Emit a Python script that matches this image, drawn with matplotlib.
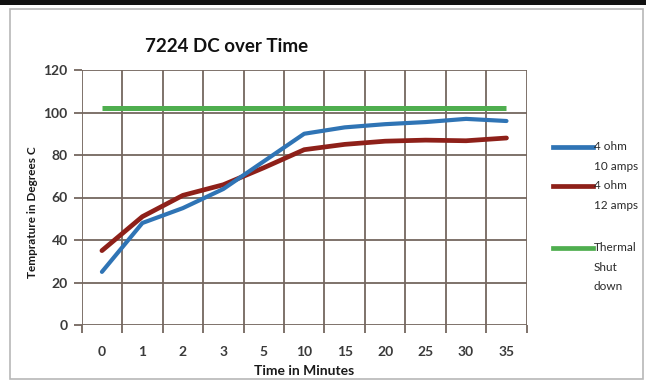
import matplotlib
matplotlib.use("Agg")
import matplotlib.pyplot as plt
from matplotlib.lines import Line2D
from matplotlib.patches import Rectangle

plt.rcParams['font.family'] = ['Lato', 'DejaVu Sans']

categories = ["0", "1", "2", "3", "5", "10", "15", "20", "25", "30", "35"]
ohm4_10amps = [25, 48, 55, 64, 77, 90, 93, 94.5, 95.5, 97, 96]
ohm4_12amps = [35, 51, 61, 66, 74, 82.5, 85, 86.5, 87, 86.7, 88]
thermal_shutdown = [102] * len(categories)
y_ticks = [0, 20, 40, 60, 80, 100, 120]

W, H = 646, 386
fig = plt.figure(figsize=(W / 100, H / 100), dpi=100)
fig.patch.set_facecolor("white")

def fx(px):
    return px / W

def fy(py):
    return 1 - py / H

# chart frame
fig.add_artist(Rectangle((0, fy(5)), 1, 5 / H, transform=fig.transFigure,
                         facecolor="#111111", edgecolor="none"))
fig.add_artist(Rectangle((fx(10), fy(379)), fx(633), (379 - 9) / H,
                         transform=fig.transFigure, facecolor="none",
                         edgecolor="#b8b8b8", linewidth=1.2))

left, right, top, bottom = 81.7, 526.7, 70, 325
ax = fig.add_axes([fx(left), fy(bottom), fx(right - left), (bottom - top) / H])
ax.set_facecolor("white")

x = list(range(len(categories)))
grid_c = "#74675f"
blue = "#2f74b5"
red = "#8e2019"
green = "#4fae4f"

ax.plot(x, thermal_shutdown, color=green, lw=3.6, solid_capstyle="butt", zorder=3)
ax.plot(x, ohm4_12amps, color=red, lw=3.4, solid_capstyle="round", zorder=4)
ax.plot(x, ohm4_10amps, color=blue, lw=3.0, solid_capstyle="round", zorder=5)

ax.set_xlim(-0.5, len(categories) - 0.5)
ax.set_ylim(0, 120)
ax.set_yticks(y_ticks)
ax.set_yticklabels([str(v) for v in y_ticks])
ax.set_xticks(x)
ax.set_xticklabels(categories)
ax.set_xticks([i - 0.5 for i in range(len(categories) + 1)], minor=True)

for v in y_ticks:
    ax.axhline(v, color=grid_c, lw=1.3, zorder=1)
for i in range(len(categories) + 1):
    ax.axvline(i - 0.5, color=grid_c, lw=1.3, zorder=1)

for s in ax.spines.values():
    s.set_visible(False)

ax.tick_params(axis="x", which="major", length=0, pad=15, labelsize=10,
               labelcolor="#3a3a3a")
ax.tick_params(axis="x", which="minor", length=6, width=1.3, color=grid_c)
ax.tick_params(axis="y", length=6, width=1.3, color=grid_c, pad=4,
               labelsize=10, labelcolor="#3a3a3a")
for lab in ax.get_xticklabels() + ax.get_yticklabels():
    lab.set_fontweight("bold")

ax.set_xlabel("Time in Minutes", fontsize=10, fontweight="bold",
              color="#1a1a1a", labelpad=5)

fig.text(fx(33), fy(212), "Temprature in Degrees C", fontsize=8.5,
         fontweight="bold", color="#1a1a1a", rotation=90,
         ha="center", va="center")

fig.text(fx(227), fy(47), "7224 DC over Time", fontsize=13.5, fontweight="bold",
         ha="center", va="center", color="#111111")

# legend
entries = [
    (blue, ["4 ohm", "10 amps"], 147),
    (red, ["4 ohm", "12 amps"], 186),
    (green, ["Thermal", "Shut", "down"], 248),
]
for col, lines, y0 in entries:
    fig.add_artist(Line2D([fx(553), fx(593)], [fy(y0), fy(y0)],
                          transform=fig.transFigure, color=col, lw=3.4))
    for k, t in enumerate(lines):
        fig.text(fx(594), fy(y0 + k * 19.5), t, fontsize=8.5, ha="left",
                 va="center", color="#2a2a2a")

fig.savefig("out.png", dpi=100, facecolor="white")
